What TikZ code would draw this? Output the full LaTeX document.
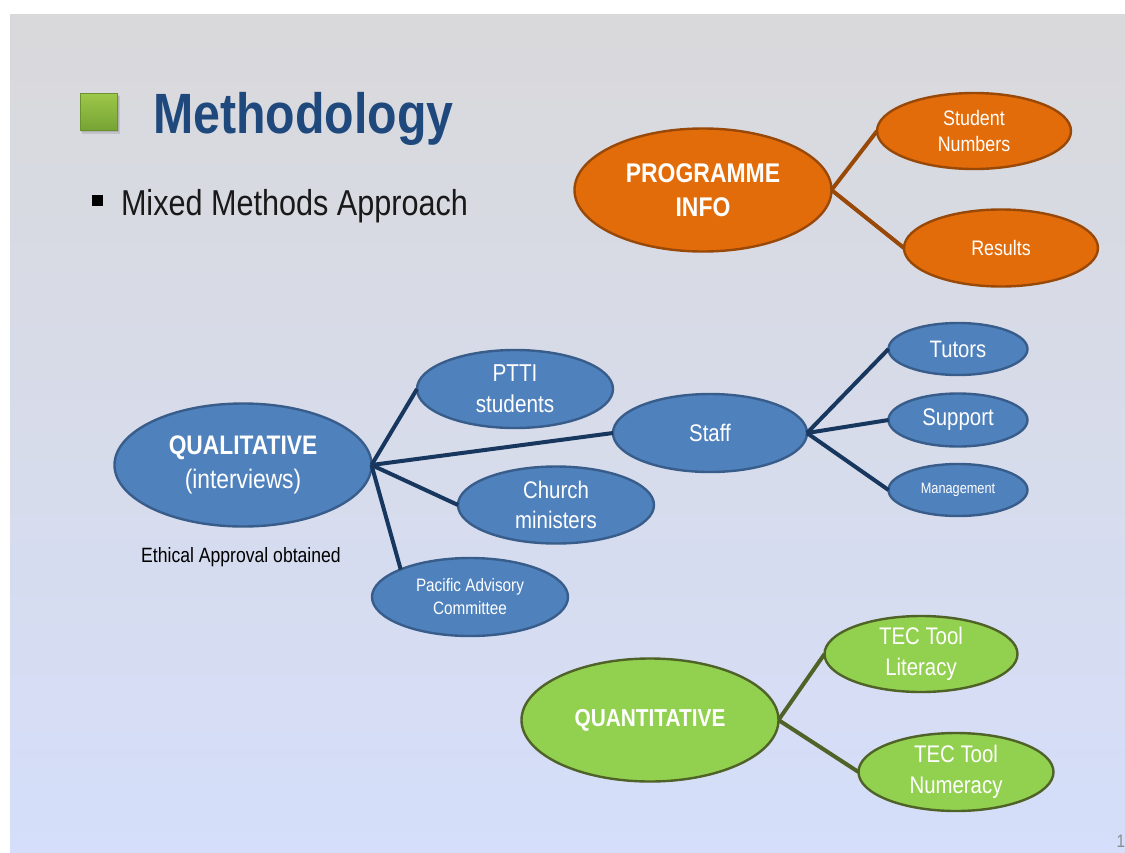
\documentclass[tikz,border=0pt]{standalone}
\usepackage{fontspec}
\setmainfont{Liberation Sans}[FakeStretch=0.85]
\usetikzlibrary{shapes.geometric,calc}

\definecolor{bgTop}{RGB}{217,217,219}
\definecolor{bgBottom}{RGB}{213,222,250}
\definecolor{titleBlue}{RGB}{31,73,125}
\definecolor{blueFill}{RGB}{79,129,189}
\definecolor{blueEdge}{RGB}{56,93,138}
\definecolor{blueLine}{RGB}{23,55,94}
\definecolor{orangeFill}{RGB}{227,108,10}
\definecolor{orangeEdge}{RGB}{152,72,7}
\definecolor{greenFill}{RGB}{146,208,80}
\definecolor{greenEdge}{RGB}{79,98,40}
\definecolor{bulletTop}{RGB}{158,200,74}
\definecolor{bulletBottom}{RGB}{118,163,52}
\definecolor{pageGray}{RGB}{140,140,140}

\newcommand{\fs}[1]{\fontsize{#1}{1.28\dimexpr#1pt\relax}\selectfont}

\tikzset{
  x=1pt, y=-1pt,
  bubble/.style={ellipse, inner sep=0pt, outer sep=0pt, line width=2.4pt,
    text=white, align=center},
  bluebubble/.style={bubble, fill=blueFill, draw=blueEdge},
  orangebubble/.style={bubble, fill=orangeFill, draw=orangeEdge},
  greenbubble/.style={bubble, fill=greenFill, draw=greenEdge},
  bluelink/.style={draw=blueLine, line width=4pt},
  orangelink/.style={draw=orangeEdge, line width=4pt},
  greenlink/.style={draw=greenEdge, line width=4pt},
  slidetext/.style={inner sep=0pt, outer sep=0pt},
}

\begin{document}
\begin{tikzpicture}
% page and slide background
\useasboundingbox (0,0) rectangle (1125,852);
\fill[white] (0,0) rectangle (1125,852);
\shade[top color=bgTop, bottom color=bgBottom] (10,14) rectangle (1125,852);

% title with green square bullet
\fill[black, opacity=0.10] (82,96) rectangle (120,134);
\fill[black, opacity=0.10] (81,95) rectangle (119,132);
\shade[top color=bulletTop, bottom color=bulletBottom, draw=bulletBottom!90!black, line width=0.6pt]
  (80,93) rectangle (117,130);
\node[slidetext, anchor=base west, text=titleBlue, font=\fs{56.8}\bfseries] (title) at (153,133) {Methodology};

% bullet line
\fill[black] (92,195) rectangle (103,206);
\node[slidetext, anchor=base west, text=black!90, font=\fs{36}] (mixed) at (121,215) {Mixed Methods Approach};

% programme info group
\node[orangebubble, minimum width=257, minimum height=123, font=\fs{27}\bfseries] (prog) at (703,190) {PROGRAMME\\INFO};
\node[orangebubble, minimum width=194, minimum height=76, font=\fs{21}] (stud) at (974,131) {Student\\Numbers};
\node[orangebubble, minimum width=194, minimum height=77, font=\fs{21}] (res) at (1001,248) {Results};

% qualitative group
\node[bluebubble, minimum width=257, minimum height=123, font=\fs{26.8}] (qual) at (243,465) {\textbf{QUALITATIVE}\\(interviews)};
\node[bluebubble, minimum width=196, minimum height=78, font=\fs{24.4}] (ptti) at (515,389) {PTTI\\students};
\node[bluebubble, minimum width=194, minimum height=78, font=\fs{24}] (staff) at (710,433) {Staff};
\node[bluebubble, minimum width=196, minimum height=77, font=\fs{24}] (church) at (556,505) {Church\\ministers};
\node[bluebubble, minimum width=196, minimum height=78, font=\fs{18}] (pac) at (470,597) {Pacific Advisory\\Committee};
\node[bluebubble, minimum width=139, minimum height=52, font=\fs{23.8}] (tutors) at (958,349) {Tutors};
\node[bluebubble, minimum width=139, minimum height=53, font=\fs{24}] (support) at (958,420) {Support};
\node[bluebubble, minimum width=139, minimum height=52, font=\fs{15}] (mgmt) at (958,490) {Management};
\node[slidetext, text=black, font=\fs{20.7}] (ethics) at (241,557) {Ethical Approval obtained};

% quantitative group
\node[greenbubble, minimum width=257, minimum height=123, font=\fs{24.5}\bfseries] (quant) at (650,720) {QUANTITATIVE};
\node[greenbubble, minimum width=193, minimum height=76, font=\fs{24}] (lit) at (921,654) {TEC Tool\\Literacy};
\node[greenbubble, minimum width=195, minimum height=78, font=\fs{24}] (num) at (956,772) {TEC Tool\\Numeracy};

% connectors
\draw[orangelink] (prog.east) -- (stud.west);
\draw[orangelink] (prog.east) -- (res.west);
\draw[bluelink] (qual.east) -- (ptti.west);
\draw[bluelink] (qual.east) -- (staff.west);
\draw[bluelink] (qual.east) -- (church.west);
\draw[bluelink] (qual.east) -- (pac.north west);
\draw[bluelink] (staff.east) -- (tutors.west);
\draw[bluelink] (staff.east) -- (support.west);
\draw[bluelink] (staff.east) -- (mgmt.west);
\draw[greenlink] (quant.east) -- (lit.west);
\draw[greenlink] (quant.east) -- (num.west);

% slide number
\node[slidetext, anchor=base east, text=pageGray, font=\fs{18}] (pagenum) at (1125,847) {1};
\end{tikzpicture}
\end{document}
